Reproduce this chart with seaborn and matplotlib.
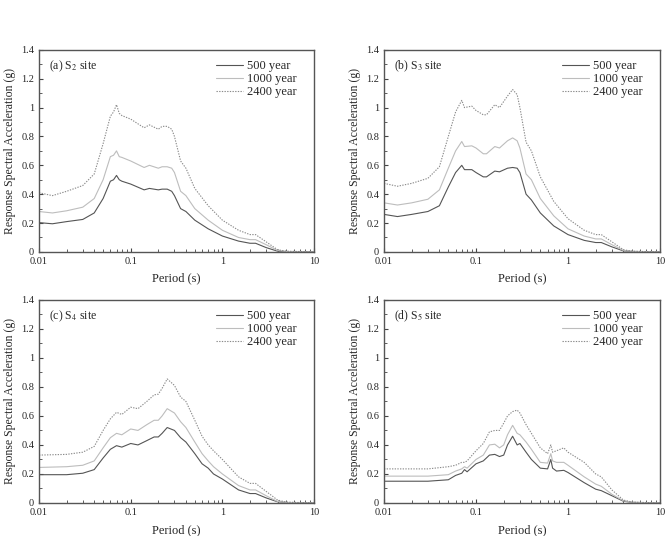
import numpy as np
import pandas as pd
import matplotlib
matplotlib.use('Agg')
import matplotlib.pyplot as plt
import seaborn as sns
from matplotlib.ticker import FixedLocator, LogLocator, FuncFormatter, MultipleLocator

## 스펙트럼 데이터
# (a) S2 site
period_a = [0.01, 0.014, 0.02, 0.03, 0.04, 0.05, 0.06, 0.065, 0.07, 0.075, 0.08, 0.1, 0.14,
            0.16, 0.2, 0.22, 0.25, 0.28, 0.3, 0.35, 0.4, 0.5, 0.7, 1.0, 1.5, 2.0, 2.3, 3.0,
            4.0, 5.0, 10.0]
a_500 = [0.203, 0.195, 0.21, 0.225, 0.27, 0.37, 0.49, 0.50, 0.53, 0.50, 0.49, 0.47, 0.43,
         0.44, 0.43, 0.435, 0.435, 0.42, 0.39, 0.30, 0.28, 0.22, 0.16, 0.11, 0.075, 0.06,
         0.06, 0.03, 0.005, 0.002, 0.0]
a_1000 = [0.28, 0.27, 0.285, 0.31, 0.37, 0.50, 0.66, 0.67, 0.70, 0.66, 0.655, 0.63, 0.585,
          0.60, 0.58, 0.59, 0.59, 0.58, 0.55, 0.42, 0.39, 0.30, 0.22, 0.15, 0.10, 0.085,
          0.085, 0.05, 0.01, 0.003, 0.0]
a_2400 = [0.41, 0.39, 0.42, 0.46, 0.54, 0.75, 0.94, 0.97, 1.02, 0.96, 0.945, 0.92, 0.86,
          0.88, 0.85, 0.87, 0.87, 0.85, 0.80, 0.63, 0.58, 0.44, 0.32, 0.22, 0.15, 0.12,
          0.12, 0.07, 0.015, 0.005, 0.0]

# (b) S3 site
period_b = [0.01, 0.014, 0.02, 0.03, 0.04, 0.05, 0.06, 0.07, 0.075, 0.09, 0.1, 0.12, 0.13,
            0.16, 0.18, 0.22, 0.25, 0.28, 0.3, 0.35, 0.4, 0.5, 0.7, 1.0, 1.5, 2.0, 2.3, 3.0,
            4.0, 5.0, 10.0]
b_500 = [0.26, 0.245, 0.26, 0.28, 0.32, 0.45, 0.55, 0.60, 0.57, 0.57, 0.55, 0.52, 0.52,
         0.56, 0.555, 0.58, 0.585, 0.58, 0.55, 0.40, 0.36, 0.27, 0.18, 0.12, 0.08, 0.065,
         0.065, 0.035, 0.007, 0.003, 0.0]
b_1000 = [0.34, 0.325, 0.34, 0.365, 0.43, 0.58, 0.70, 0.765, 0.73, 0.735, 0.72, 0.68, 0.68,
          0.73, 0.72, 0.77, 0.79, 0.77, 0.72, 0.54, 0.50, 0.37, 0.25, 0.16, 0.11, 0.09,
          0.09, 0.05, 0.01, 0.004, 0.0]
b_2400 = [0.475, 0.455, 0.475, 0.51, 0.59, 0.80, 0.97, 1.05, 1.00, 1.01, 0.98, 0.95, 0.95,
          1.02, 1.00, 1.08, 1.125, 1.09, 1.00, 0.76, 0.70, 0.52, 0.35, 0.23, 0.15, 0.12,
          0.12, 0.07, 0.015, 0.005, 0.0]

# (c) S4 site
period_c = [0.01, 0.02, 0.03, 0.04, 0.05, 0.06, 0.07, 0.08, 0.1, 0.12, 0.15, 0.18, 0.2,
            0.22, 0.25, 0.3, 0.35, 0.4, 0.5, 0.6, 0.7, 0.8, 1.0, 1.5, 2.0, 2.3, 3.0, 4.0,
            5.0, 10.0]
c_500 = [0.195, 0.195, 0.205, 0.23, 0.31, 0.37, 0.395, 0.385, 0.41, 0.40, 0.43, 0.455,
         0.455, 0.48, 0.52, 0.50, 0.45, 0.42, 0.34, 0.27, 0.24, 0.20, 0.165, 0.09, 0.065,
         0.065, 0.035, 0.008, 0.003, 0.0]
c_1000 = [0.245, 0.25, 0.26, 0.29, 0.38, 0.45, 0.48, 0.47, 0.51, 0.50, 0.54, 0.57, 0.57,
          0.60, 0.65, 0.62, 0.56, 0.52, 0.42, 0.34, 0.29, 0.25, 0.20, 0.12, 0.09, 0.09,
          0.05, 0.01, 0.004, 0.0]
c_2400 = [0.33, 0.335, 0.35, 0.39, 0.50, 0.58, 0.625, 0.61, 0.66, 0.65, 0.70, 0.745, 0.75,
          0.79, 0.855, 0.81, 0.73, 0.70, 0.57, 0.46, 0.40, 0.36, 0.30, 0.18, 0.135, 0.135,
          0.08, 0.02, 0.006, 0.0]

# (d) S5 site
period_d = [0.01, 0.03, 0.05, 0.06, 0.07, 0.075, 0.08, 0.1, 0.12, 0.14, 0.16, 0.18, 0.2,
            0.22, 0.25, 0.28, 0.3, 0.35, 0.4, 0.5, 0.6, 0.65, 0.68, 0.75, 0.9, 1.0, 1.5,
            2.0, 2.3, 3.0, 4.0, 5.0, 10.0]
d_500 = [0.15, 0.15, 0.16, 0.19, 0.205, 0.23, 0.215, 0.27, 0.29, 0.33, 0.335, 0.32, 0.33,
         0.40, 0.46, 0.40, 0.41, 0.35, 0.30, 0.24, 0.235, 0.30, 0.24, 0.22, 0.225, 0.21,
         0.14, 0.095, 0.085, 0.05, 0.012, 0.004, 0.0]
d_1000 = [0.185, 0.185, 0.195, 0.22, 0.235, 0.25, 0.24, 0.30, 0.33, 0.40, 0.405, 0.38, 0.40,
          0.47, 0.535, 0.48, 0.47, 0.42, 0.37, 0.28, 0.275, 0.34, 0.29, 0.28, 0.28, 0.26,
          0.18, 0.13, 0.115, 0.06, 0.015, 0.005, 0.0]
d_2400 = [0.235, 0.235, 0.25, 0.26, 0.28, 0.28, 0.29, 0.36, 0.41, 0.49, 0.50, 0.50, 0.55,
          0.60, 0.63, 0.64, 0.62, 0.54, 0.48, 0.38, 0.34, 0.40, 0.35, 0.36, 0.38, 0.35,
          0.28, 0.20, 0.18, 0.09, 0.02, 0.006, 0.0]

titles = [r'(a) S$_2$ site', r'(b) S$_3$ site', r'(c) S$_4$ site', r'(d) S$_5$ site']
labels = ['500 year', '1000 year', '2400 year']

panels = [(period_a, a_500, a_1000, a_2400),
          (period_b, b_500, b_1000, b_2400),
          (period_c, c_500, c_1000, c_2400),
          (period_d, d_500, d_1000, d_2400)]

#%%
sns.set_style('ticks')
plt.rcParams['font.family'] = ['Liberation Serif', 'DejaVu Serif']
plt.rcParams['mathtext.fontset'] = 'stix'

colors = {'500 year': '#555555', '1000 year': '#bdbdbd', '2400 year': '#8a8a8a'}
dashes = {'500 year': '', '1000 year': '', '2400 year': (1.2, 1.2)}

fig = plt.figure(figsize=(6.66, 5.36), dpi=100)
pos = [[0.0586, 0.530, 0.413, 0.377],
       [0.5766, 0.530, 0.4144, 0.377],
       [0.0586, 0.0616, 0.413, 0.379],
       [0.5766, 0.0616, 0.4144, 0.379]]

for i, (per, s1, s2, s3) in enumerate(panels):
    ax = fig.add_axes(pos[i])
    df = pd.DataFrame({
        'period': per * 3,
        'sa': s1 + s2 + s3,
        'rp': [labels[0]] * len(per) + [labels[1]] * len(per) + [labels[2]] * len(per),
    })
    sns.lineplot(data=df, x='period', y='sa', hue='rp', style='rp', palette=colors,
                 dashes=dashes, linewidth=0.8, ax=ax, sort=False)
    ax.set_xscale('log')
    ax.set_xlim(0.01, 10)
    ax.set_ylim(0, 1.4)
    ax.xaxis.set_major_locator(FixedLocator([0.01, 0.1, 1, 10]))
    ax.xaxis.set_minor_locator(LogLocator(base=10, subs=np.arange(2, 10)))
    ax.xaxis.set_major_formatter(FuncFormatter(lambda v, p: '%g' % v))
    ax.yaxis.set_major_locator(MultipleLocator(0.2))
    ax.yaxis.set_minor_locator(MultipleLocator(0.1))
    ax.yaxis.set_major_formatter(FuncFormatter(lambda v, p: '%g' % round(v, 1)))
    ax.tick_params(which='both', direction='in', labelsize=7.5, color='#444444',
                   top=False, right=False)
    ax.tick_params(which='major', length=3, width=0.8)
    ax.tick_params(which='minor', length=2, width=0.6)
    for sp in ax.spines.values():
        sp.set_color('#555555')
        sp.set_linewidth(1.0)
    ax.set_xlabel('Period (s)', fontsize=9, labelpad=5)
    ax.set_ylabel('Response Spectral Acceleration (g)', fontsize=8.5, labelpad=4)
    ax.text(0.035, 0.955, titles[i], transform=ax.transAxes, fontsize=8.5, va='top')
    ax.legend(frameon=False, fontsize=9, loc='upper right', handlelength=2.1,
              borderaxespad=0.0, labelspacing=0.1, handletextpad=0.35,
              bbox_to_anchor=(0.955, 0.975))

fig.savefig('out.png', dpi=100)
